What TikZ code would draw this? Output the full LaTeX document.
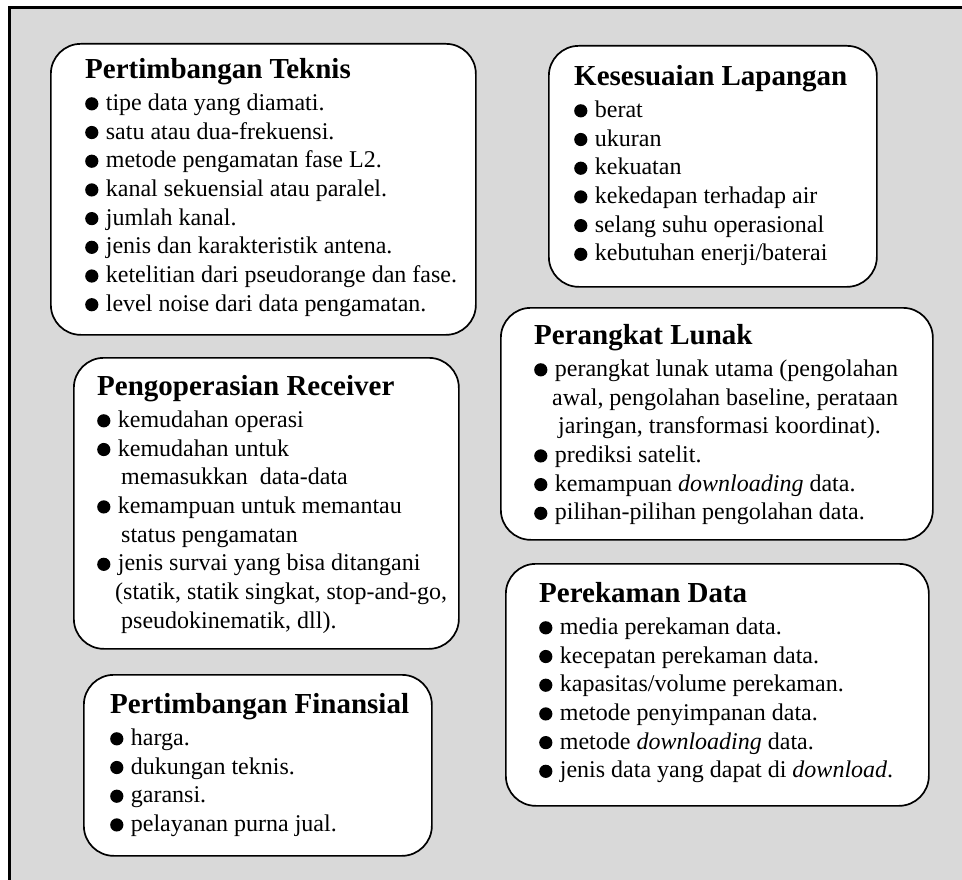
\documentclass[tikz,border=0pt]{standalone}
\usepackage{fontspec}
\setmainfont{Liberation Serif}
\usepackage{xcolor}
\definecolor{framebg}{HTML}{D9D9D9}
\usetikzlibrary{positioning}

\newcommand{\cardtitle}[1]{{\fontsize{29}{28.7}\selectfont\bfseries #1}\\[3pt]}
\newcommand{\itm}{\tikz[baseline=0pt,x=1pt,y=1pt]\fill (6.6,6.6) circle (6.6);\hspace{7.5pt}}

\begin{document}
\begin{tikzpicture}[x=1pt,y=-1pt,
  card/.style={draw,line width=1.7pt,rounded corners=30pt,fill=white,
    anchor=north west,inner sep=0pt},
  cardtext/.style={anchor=north west,inner sep=0pt,align=left,
    font=\fontsize{24}{28.7}\selectfont}]
\useasboundingbox (0,0) rectangle (962,880);
\clip (0,0) rectangle (962,880);
% outer frame
\draw[line width=3pt,fill=framebg] (9.5,7.5) rectangle (980,900);

% boxes
\node[card,minimum width=425pt,minimum height=291pt] (teknis) at (50,43) {};
\node[card,minimum width=328pt,minimum height=241pt] (lapangan) at (548,45) {};
\node[card,minimum width=432pt,minimum height=232pt] (lunak) at (500,307) {};
\node[card,minimum width=385pt,minimum height=291pt] (receiver) at (73,357) {};
\node[card,minimum width=423pt,minimum height=242pt] (rekam) at (505,563) {};
\node[card,minimum width=348pt,minimum height=181pt] (finansial) at (83,674) {};

% texts
\node[cardtext,below right=15.4pt and 35pt of teknis.north west] (teknis-txt) {%
\cardtitle{Pertimbangan Teknis}
\itm tipe data yang diamati.\\
\itm satu atau dua-frekuensi.\\
\itm metode pengamatan fase L2.\\
\itm kanal sekuensial atau paralel.\\
\itm jumlah kanal.\\
\itm jenis dan karakteristik antena.\\
\itm ketelitian dari pseudorange dan fase.\\
\itm level noise dari data pengamatan.};

\node[cardtext,below right=20.4pt and 26pt of lapangan.north west] (lapangan-txt) {%
\cardtitle{Kesesuaian Lapangan}
\itm berat\\
\itm ukuran\\
\itm kekuatan\\
\itm kekedapan terhadap air\\
\itm selang suhu operasional\\
\itm kebutuhan enerji/baterai};

\node[cardtext,below right=17.4pt and 34pt of lunak.north west] (lunak-txt) {%
\cardtitle{Perangkat Lunak}
\itm perangkat lunak utama (pengolahan\\
\hspace*{18pt}awal, pengolahan baseline, perataan\\
\hspace*{24pt}jaringan, transformasi koordinat).\\
\itm prediksi satelit.\\
\itm kemampuan \textit{downloading} data.\\
\itm pilihan-pilihan pengolahan data.};

\node[cardtext,below right=18.4pt and 24pt of receiver.north west] (receiver-txt) {%
\cardtitle{Pengoperasian Receiver}
\itm kemudahan operasi\\
\itm kemudahan untuk\\
\hspace*{24pt}memasukkan\ \ data-data\\
\itm kemampuan untuk memantau\\
\hspace*{24pt}status pengamatan\\
\itm jenis survai yang bisa ditangani\\
\hspace*{18pt}(statik, statik singkat, stop-and-go,\\
\hspace*{24pt}pseudokinematik, dll).};

\node[cardtext,below right=19.4pt and 34pt of rekam.north west] (rekam-txt) {%
\cardtitle{Perekaman Data}
\itm media perekaman data.\\
\itm kecepatan perekaman data.\\
\itm kapasitas/volume perekaman.\\
\itm metode penyimpanan data.\\
\itm metode \textit{downloading} data.\\
\itm jenis data yang dapat di \textit{download}.};

\node[cardtext,below right=19.4pt and 27pt of finansial.north west] (finansial-txt) {%
\cardtitle{Pertimbangan Finansial}
\itm harga.\\
\itm dukungan teknis.\\
\itm garansi.\\
\itm pelayanan purna jual.};
\end{tikzpicture}
\end{document}
